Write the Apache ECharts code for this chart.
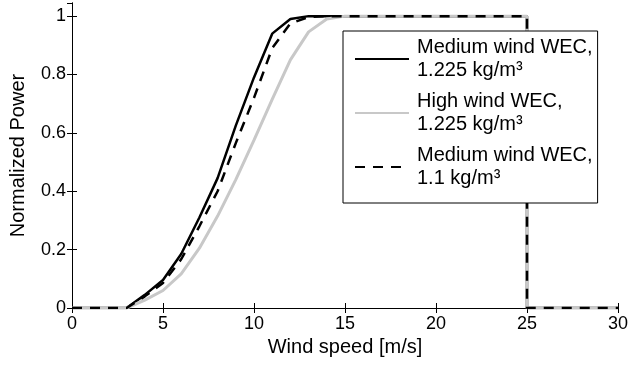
<!DOCTYPE html>
<html>
<head>
<meta charset="utf-8">
<script src="https://cdn.jsdelivr.net/npm/echarts@6/dist/echarts.min.js"></script>
<style>
  html, body { margin: 0; padding: 0; background: #fff; }
  #chart { width: 631px; height: 365px; }
</style>
</head>
<body>
<div id="chart"></div>
<script>
// wind speed samples (m/s); 25 appears twice for the cut-out drop
const speeds = [0, 1, 2, 3, 4, 5, 6, 7, 8, 9, 10, 11, 12, 13, 14, 15, 16, 17, 18, 19, 20,
  21, 22, 23, 24, 25, 25, 26, 27, 28, 29, 30];

const mediumWind1225 = [0, 0, 0, 0, 0.045, 0.096, 0.185, 0.31, 0.445, 0.625, 0.79, 0.94, 0.99,
  1, 1, 1, 1, 1, 1, 1, 1, 1, 1, 1, 1, 1, 0, 0, 0, 0, 0, 0];
const highWind1225 = [0, 0, 0, 0, 0.027, 0.06, 0.117, 0.205, 0.315, 0.44, 0.575, 0.715, 0.85,
  0.946, 0.99, 1, 1, 1, 1, 1, 1, 1, 1, 1, 1, 1, 0, 0, 0, 0, 0, 0];
const mediumWind11 = [0, 0, 0, 0, 0.04, 0.086, 0.167, 0.28, 0.4, 0.565, 0.72, 0.89, 0.975,
  0.997, 1, 1, 1, 1, 1, 1, 1, 1, 1, 1, 1, 1, 0, 0, 0, 0, 0, 0];

const seriesNames = [
  "Medium wind WEC,\n1.225 kg/m³",
  "High wind WEC,\n1.225 kg/m³",
  "Medium wind WEC,\n1.1 kg/m³",
];

const font = "'Liberation Sans', Arial, Helvetica, sans-serif";
const toPairs = (values) => speeds.map((s, i) => [s, values[i]]);

const boxAxis = {
  axisLine: { show: true, lineStyle: { color: "#000", width: 1 } },
  axisTick: { show: true, inside: true, length: 5, lineStyle: { color: "#000" } },
  splitLine: { show: false },
};

const chart = echarts.init(document.getElementById("chart"));
chart.setOption({
  animation: false,
  backgroundColor: "#fff",
  grid: { left: 72, right: 12, top: 3, bottom: 57 },
  xAxis: [
    {
      type: "value",
      min: 0,
      max: 30,
      interval: 5,
      name: "Wind speed [m/s]",
      nameLocation: "middle",
      nameGap: 28,
      nameTextStyle: { color: "#000", fontSize: 20, fontFamily: font },
      axisLabel: { color: "#000", fontSize: 18, fontFamily: font, margin: 7 },
      ...boxAxis,
    },
    {
      type: "value",
      position: "top",
      min: 0,
      max: 30,
      interval: 5,
      axisLabel: { show: false },
      ...boxAxis,
    },
  ],
  yAxis: [
    {
      type: "value",
      min: 0,
      max: 1.045,
      interval: 0.2,
      name: "Normalized Power",
      nameLocation: "middle",
      nameGap: 44,
      nameTextStyle: { color: "#000", fontSize: 20, fontFamily: font },
      axisLabel: {
        color: "#000",
        fontSize: 18,
        fontFamily: font,
        margin: 6,
        showMaxLabel: false,
        formatter: (v) => String(Math.round(v * 10) / 10),
      },
      ...boxAxis,
    },
    {
      type: "value",
      position: "right",
      min: 0,
      max: 1.045,
      interval: 0.2,
      axisLabel: { show: false },
      ...boxAxis,
    },
  ],
  legend: {
    orient: "vertical",
    left: 343,
    top: 31,
    backgroundColor: "#fff",
    borderColor: "#000",
    borderWidth: 1,
    borderRadius: 0,
    padding: [5, 5, 13, 11],
    itemWidth: 54,
    itemHeight: 14,
    itemGap: 8,
    itemStyle: { opacity: 0 },
    textStyle: {
      color: "#000",
      fontSize: 20,
      fontFamily: font,
      lineHeight: 23,
      padding: [0, 0, 0, 3],
    },
    data: seriesNames,
  },
  series: [
    {
      name: seriesNames[0],
      type: "line",
      symbol: "none",
      data: toPairs(mediumWind1225),
      lineStyle: { color: "#000", width: 2.5 },
      itemStyle: { color: "#000" },
    },
    {
      name: seriesNames[1],
      type: "line",
      symbol: "none",
      data: toPairs(highWind1225),
      lineStyle: { color: "#c8c8c8", width: 3 },
      itemStyle: { color: "#c8c8c8" },
    },
    {
      name: seriesNames[2],
      type: "line",
      symbol: "none",
      data: toPairs(mediumWind11),
      lineStyle: { color: "#000", width: 2.5, type: [10, 8] },
      itemStyle: { color: "#000" },
    },
  ],
});
</script>
</body>
</html>
